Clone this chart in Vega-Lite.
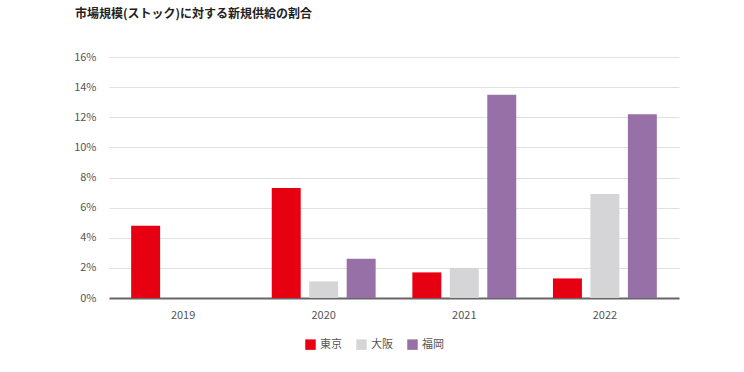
{
  "$schema": "https://vega.github.io/schema/vega-lite/v6.json",
  "width": 570,
  "height": 241,
  "autosize": "none",
  "padding": {"left": 109, "top": 57, "right": 65, "bottom": 74},
  "background": "white",
  "config": {
    "font": "Noto Sans CJK JP",
    "view": {"stroke": null}
  },
  "title": {
    "text": "市場規模(ストック)に対する新規供給の割合",
    "anchor": "start",
    "frame": "group",
    "dx": -34,
    "offset": 30,
    "fontSize": 12,
    "fontWeight": "bold",
    "color": "#222"
  },
  "data": {
    "values": [
      {"year": "2019", "city": "東京", "value": 4.8},
      {"year": "2020", "city": "東京", "value": 7.3},
      {"year": "2020", "city": "大阪", "value": 1.1},
      {"year": "2020", "city": "福岡", "value": 2.6},
      {"year": "2021", "city": "東京", "value": 1.7},
      {"year": "2021", "city": "大阪", "value": 2.0},
      {"year": "2021", "city": "福岡", "value": 13.5},
      {"year": "2022", "city": "東京", "value": 1.3},
      {"year": "2022", "city": "大阪", "value": 6.9},
      {"year": "2022", "city": "福岡", "value": 12.2}
    ]
  },
  "mark": {"type": "bar"},
  "encoding": {
    "x": {
      "field": "year",
      "type": "nominal",
      "scale": {"paddingInner": 0, "paddingOuter": 0.027},
      "axis": {
        "title": null,
        "labelAngle": 0,
        "ticks": false,
        "domainColor": "#666",
        "domainWidth": 2,
        "labelColor": "#555",
        "labelFontSize": 11,
        "labelPadding": 11
      }
    },
    "xOffset": {
      "field": "city",
      "type": "nominal",
      "sort": ["東京", "大阪", "福岡"],
      "scale": {"paddingInner": 0.227, "paddingOuter": 0.49}
    },
    "y": {
      "field": "value",
      "type": "quantitative",
      "scale": {"domain": [0, 16]},
      "axis": {
        "title": null,
        "values": [0, 2, 4, 6, 8, 10, 12, 14, 16],
        "labelExpr": "datum.value + '%'",
        "domain": false,
        "ticks": false,
        "gridColor": "#e0e0e0",
        "gridWidth": 1.2,
        "labelColor": "#555",
        "labelFontSize": 11,
        "labelPadding": 13
      }
    },
    "color": {
      "field": "city",
      "type": "nominal",
      "sort": ["東京", "大阪", "福岡"],
      "scale": {"domain": ["東京", "大阪", "福岡"], "range": ["#e60012", "#d5d5d7", "#9870a8"]},
      "legend": {
        "title": null,
        "orient": "none",
        "legendX": 196,
        "legendY": 282,
        "direction": "horizontal",
        "symbolType": "square",
        "symbolSize": 110,
        "symbolStrokeWidth": 0,
        "labelFontSize": 11,
        "labelColor": "#555",
        "labelOffset": 4,
        "columnPadding": 14
      }
    }
  }
}
